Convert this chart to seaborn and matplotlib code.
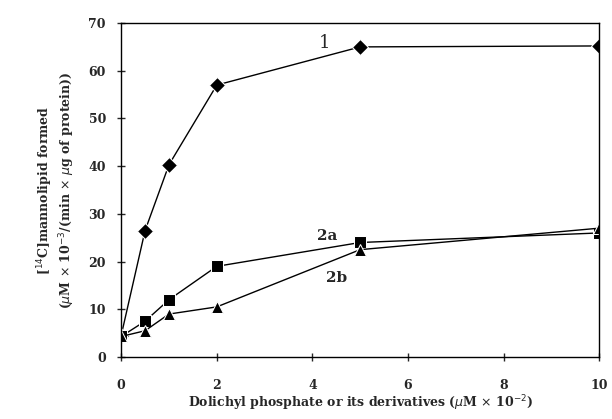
import matplotlib
matplotlib.use("Agg")
import matplotlib.pyplot as plt
import seaborn as sns
import pandas as pd

x_vals = [0, 0.5, 1, 2, 5, 10]
s1 = [4.5, 26.5, 40.3, 57.0, 65.0, 65.2]
s2a = [4.3, 7.5, 12.0, 19.0, 24.0, 26.0]
s2b = [4.3, 5.5, 9.0, 10.5, 22.5, 27.0]
series_names = ["1", "2a", "2b"]
x_ticks = [0, 2, 4, 6, 8, 10]
y_ticks = [0, 10, 20, 30, 40, 50, 60, 70]

df = pd.DataFrame({
    "x": x_vals * 3,
    "y": s1 + s2a + s2b,
    "series": [series_names[0]] * 6 + [series_names[1]] * 6 + [series_names[2]] * 6,
})

sns.set_theme(style="ticks")
plt.rcParams["font.family"] = ["DejaVu Serif"]

fig = plt.figure(figsize=(6.12, 4.19), dpi=100)
ax = fig.add_axes([0.198, 0.148, 0.781, 0.797])

sns.lineplot(data=df, x="x", y="y", hue="series", style="series",
             markers={"1": "D", "2a": "s", "2b": "^"}, dashes=False,
             palette={"1": "black", "2a": "black", "2b": "black"},
             markersize=8, linewidth=1.0, legend=False, ax=ax)

ax.set_xlim(0, 10)
ax.set_ylim(0, 70)
ax.set_xticks(x_ticks)
ax.set_yticks(y_ticks)
ax.tick_params(direction="inout", length=6, width=1, labelsize=9)
for lab in ax.get_xticklabels() + ax.get_yticklabels():
    lab.set_fontweight("bold")
ax.tick_params(axis="x", pad=13)
ax.tick_params(axis="y", pad=8)
for sp in ax.spines.values():
    sp.set_visible(True)
    sp.set_color("black")
    sp.set_linewidth(1.0)

ax.set_xlabel(r"Dolichyl phosphate or its derivatives ($\mu$M $\times$ 10$^{-2}$)",
              fontsize=9, fontweight="bold", labelpad=1)
ax.set_ylabel("[$^{14}$C]mannolipid formed\n($\\mu$M $\\times$ 10$^{-3}$/(min $\\times$ $\\mu$g of protein))",
              fontsize=9, fontweight="bold", labelpad=8)

ax.text(4.25, 65.8, "1", fontsize=13, ha="center", va="center")
ax.text(4.3, 25.3, "2a", fontsize=11, ha="center", va="center", fontweight="bold")
ax.text(4.5, 16.6, "2b", fontsize=11, ha="center", va="center", fontweight="bold")

fig.savefig("out.png", dpi=100)
